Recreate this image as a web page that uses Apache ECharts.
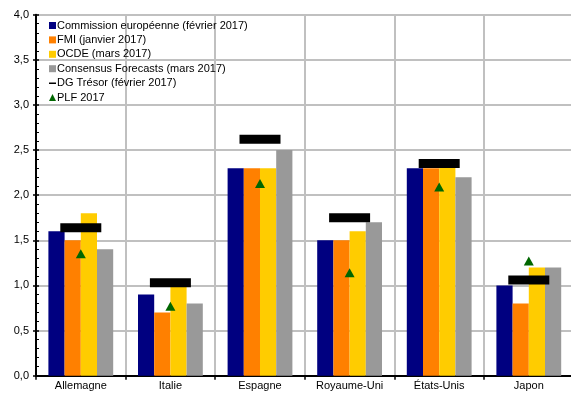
<!DOCTYPE html>
<html><head><meta charset="utf-8">
<script src="https://cdn.jsdelivr.net/npm/echarts@6/dist/echarts.min.js"></script>
<style>html,body{margin:0;padding:0;background:#fff}#c{width:571px;height:394px}</style>
</head><body><div id="c"></div>
<script>
const categories = ['Allemagne','Italie','Espagne','Royaume-Uni','États-Unis','Japon'];
const commission = [1.6, 0.9, 2.3, 1.5, 2.3, 1.0];
const fmi = [1.5, 0.7, 2.3, 1.5, 2.3, 0.8];
const ocde = [1.8, 1.0, 2.3, 1.6, 2.4, 1.2];
const consensus = [1.4, 0.8, 2.5, 1.7, 2.2, 1.2];
const dgTresor = [1.64, 1.03, 2.62, 1.75, 2.35, 1.06];
const plf = [1.35, 0.77, 2.13, 1.14, 2.09, 1.27];
const seriesNames = ['Commission européenne (février 2017)','FMI (janvier 2017)','OCDE (mars 2017)','Consensus Forecasts (mars 2017)','DG Trésor (février 2017)','PLF 2017'];

const FONT = 'Liberation Sans, Arial, sans-serif';
const chart = echarts.init(document.getElementById('c'), null, {renderer:'canvas'});
const dashIcon = 'path://M0,0 L10,0 L10,0.01 L0,0.01 Z M0,4.2 L10,4.2 L10,6.4 L0,6.4 Z M0,9.99 L10,9.99 L10,10 L0,10 Z';
const barCommon = {type:'bar', barWidth:16.2, barGap:'0%', xAxisIndex:0, yAxisIndex:0};
chart.setOption({
  animation:false,
  textStyle:{fontFamily:FONT},
  grid:{left:36, width:537.6, top:14.7, height:361, containLabel:false, outerBoundsMode:'none'},
  legend:{
    orient:'vertical', left:44, top:14, itemWidth:7, itemHeight:7, itemGap:1.4,
    textStyle:{fontFamily:FONT, fontSize:11, color:'#000', lineHeight:13, padding:[0,0,0,-4]},
    data:[
      {name:seriesNames[0], icon:'rect'},
      {name:seriesNames[1], icon:'rect'},
      {name:seriesNames[2], icon:'rect'},
      {name:seriesNames[3], icon:'rect'},
      {name:seriesNames[4], icon:dashIcon},
      {name:seriesNames[5], icon:'triangle'}
    ]
  },
  xAxis:[{
    type:'category', data:categories, position:'bottom',
    axisLine:{lineStyle:{color:'#000', width:2}},
    axisTick:{show:true, length:4, lineStyle:{color:'#000', width:1.5}},
    axisLabel:{fontFamily:FONT, fontSize:11, color:'#000', margin:5},
    splitLine:{show:true, lineStyle:{color:'#c0c0c0', width:2}}
  },{
    type:'category', data:categories, position:'top',
    axisLine:{show:true, lineStyle:{color:'#000', width:2}},
    axisTick:{show:false}, axisLabel:{show:false}, splitLine:{show:false}
  }],
  yAxis:[{
    type:'value', min:0, max:4, interval:0.5, position:'left',
    axisLine:{show:true, lineStyle:{color:'#000', width:2}},
    axisTick:{show:true, inside:true, length:3, lineStyle:{color:'#000', width:1.5}},
    minorTick:{show:true, splitNumber:5, length:3, lineStyle:{color:'#000', width:1}},
    axisLabel:{fontFamily:FONT, fontSize:11, color:'#000', margin:7,
      formatter:v=>v.toFixed(1).replace('.',',')},
    splitLine:{show:true, lineStyle:{color:'#c0c0c0', width:2}}
  },{
    type:'value', min:0, max:4, interval:0.5, position:'left', offset:0,
    axisLine:{show:false},
    axisTick:{show:true, inside:false, length:3, lineStyle:{color:'#000', width:1.5}},
    axisLabel:{show:false}, splitLine:{show:false}
  }],
  series:[
    Object.assign({name:seriesNames[0], data:commission, itemStyle:{color:'#000080'}}, barCommon),
    Object.assign({name:seriesNames[1], data:fmi, itemStyle:{color:'#ff8000'}}, barCommon),
    Object.assign({name:seriesNames[2], data:ocde, itemStyle:{color:'#ffcc00'}}, barCommon),
    Object.assign({name:seriesNames[3], data:consensus, itemStyle:{color:'#999999'}}, barCommon),
    {name:seriesNames[4], type:'scatter', data:dgTresor, symbol:'rect', symbolSize:[41,9], itemStyle:{color:'#000', opacity:1}, z:5},
    {name:seriesNames[5], type:'scatter', data:plf, symbol:'triangle', symbolSize:[10,9], itemStyle:{color:'#006600', opacity:1}, z:6}
  ]
});
</script></body></html>
